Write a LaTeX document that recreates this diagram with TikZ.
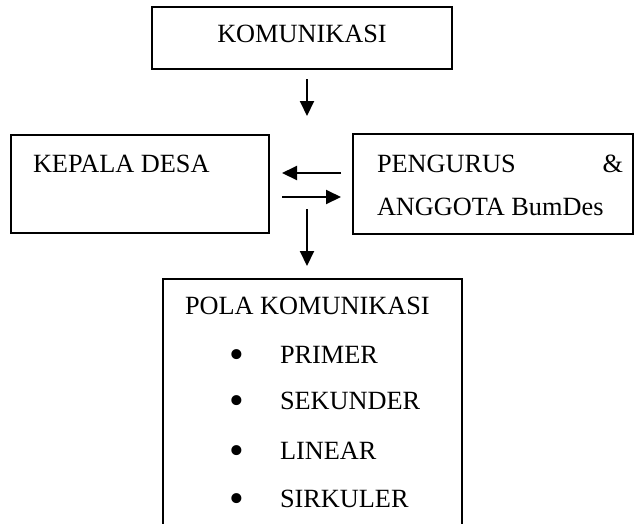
\documentclass[tikz,border=0pt]{standalone}
\usepackage{fontspec}
\setmainfont{Liberation Serif}
\usetikzlibrary{arrows.meta}
\begin{document}
\begin{tikzpicture}[x=1pt,y=-1pt,
  box/.style={draw,line width=1.3pt,rectangle,inner sep=0pt,outer sep=0pt},
  txt/.style={inner sep=0pt,outer sep=0pt,font=\fontsize{26.3pt}{30pt}\selectfont},
  bul/.style={inner sep=0pt,outer sep=0pt,anchor=base,font=\fontsize{42pt}{44pt}\selectfont},
  arr/.style={line width=2pt,-{Triangle[length=15pt,width=14pt]}}]
\useasboundingbox (0,0) rectangle (634,523);
\clip (0,0) rectangle (634,523);
% boxes
\node[box,minimum width=300pt,minimum height=62pt] (kom) at (302,38) {};
\node[box,minimum width=258pt,minimum height=98pt] (kep) at (140,184) {};
\node[box,minimum width=280pt,minimum height=100pt] (pen) at (493,184) {};
\node[box,minimum width=299pt,minimum height=291pt] (pola) at (312.5,424.5) {};
% texts
\node[txt,anchor=base] (tkom) at (302,42) {KOMUNIKASI};
\node[txt,anchor=base west] (tkep) at (33,172) {KEPALA DESA};
\node[txt,anchor=base west] (tpen1) at (377,172) {\makebox[246pt][l]{PENGURUS\hfill\&}};
\node[txt,anchor=base west] (tpen2) at (377,215) {ANGGOTA BumDes};
\node[txt,anchor=base west] (tpola) at (185,314) {POLA KOMUNIKASI};
\node[bul] (b1) at (237,368) {•};
\node[txt,anchor=base west] (i1) at (280,363) {PRIMER};
\node[bul] (b2) at (237,414) {•};
\node[txt,anchor=base west] (i2) at (280,409) {SEKUNDER};
\node[bul] (b3) at (237,464) {•};
\node[txt,anchor=base west] (i3) at (280,459) {LINEAR};
\node[bul] (b4) at (237,512) {•};
\node[txt,anchor=base west] (i4) at (280,507) {SIRKULER};
% connectors
\coordinate (t1) at (307,116);
\draw[arr,shorten <=10pt] (kom.south -| t1) -- (t1);
\draw[arr,shorten <=12pt,shorten >=13pt] ([yshift=11pt]pen.west) -- ([yshift=11pt]kep.east);
\draw[arr,shorten <=13pt,shorten >=12pt] ([yshift=-13pt]kep.east) -- ([yshift=-13pt]pen.west);
\coordinate (s2) at (307,209);
\draw[arr,shorten >=13pt] (s2) -- (pola.north -| s2);
\end{tikzpicture}
\end{document}
